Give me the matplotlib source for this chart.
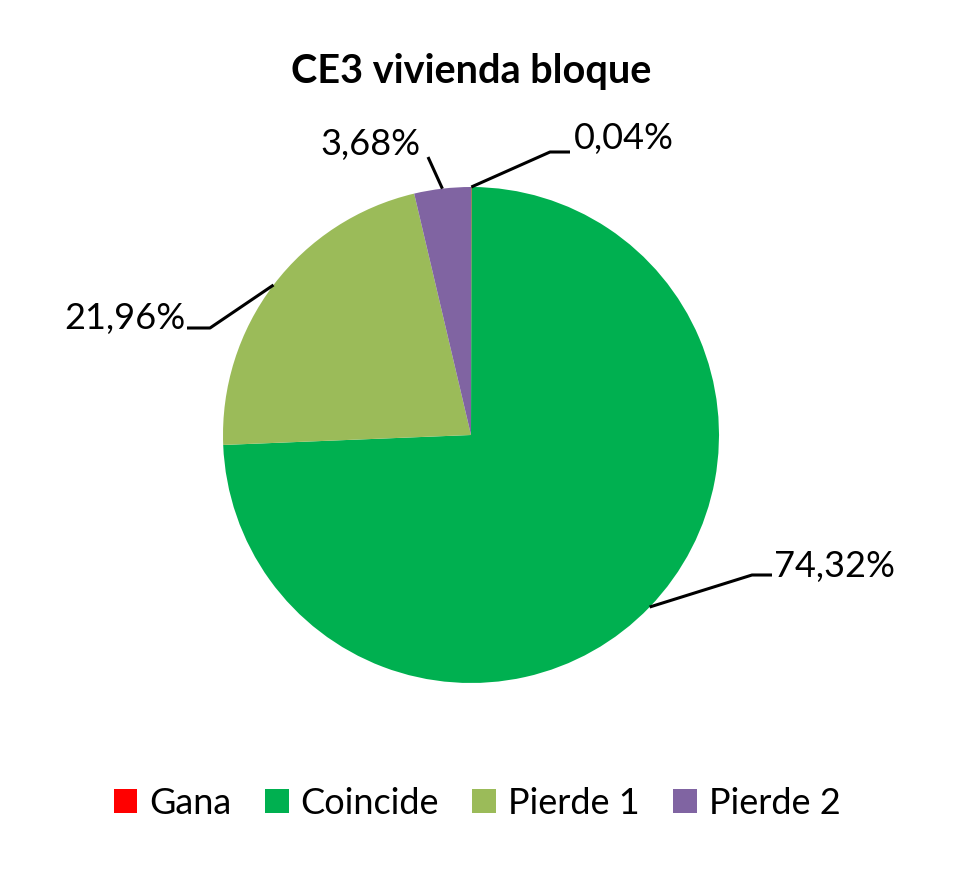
import numpy as np
import matplotlib.pyplot as plt
from matplotlib.patches import Patch

plt.rcParams['font.family'] = ['Lato', 'DejaVu Sans']

# Datos del gráfico
categorias = ['Gana', 'Coincide', 'Pierde 1', 'Pierde 2']
valores = [0.04, 74.32, 21.96, 3.68]
etiquetas = ['0,04%', '74,32%', '21,96%', '3,68%']
colores = ['#FF0000', '#00B050', '#9BBB59', '#8064A2']

# Centro y radio del pie en píxeles (figura 974x869)
W, H = 974, 869
cx, cy, R = 471, 435, 248


def px(x, y):
    # convertir coordenadas de píxel a unidades de datos
    return (x - cx) / R, (cy - y) / R


fig = plt.figure(figsize=(W / 100, H / 100), dpi=100)
ax = fig.add_axes([0, 0, 1, 1])

wedges, _ = ax.pie(valores, colors=colores, startangle=90, counterclock=False,
                   radius=1.0, wedgeprops=dict(linewidth=0))

ax.set_xlim(-cx / R, (W - cx) / R)
ax.set_ylim((cy - H) / R, cy / R)
ax.set_aspect('equal')
ax.axis('off')

# Posiciones de las líneas guía y textos (píxeles): codo, extremo, texto, alineación
guias = [
    ((550, 152), (570, 152), (574, 139), 'left'),
    ((752, 575), (772, 575), (774, 566), 'left'),
    ((210, 328), (187, 328), (185, 319), 'right'),
    ((428, 157), (428, 157), (421, 145), 'right'),
]

for w, lab, (codo, fin, txt, ha) in zip(wedges, etiquetas, guias):
    ang = np.deg2rad((w.theta1 + w.theta2) / 2)
    x0, y0 = np.cos(ang), np.sin(ang)
    xc, yc = px(*codo)
    xf, yf = px(*fin)
    ax.plot([x0, xc, xf], [y0, yc, yf], color='black', lw=2.2, solid_capstyle='butt')
    xt, yt = px(*txt)
    ax.text(xt, yt, lab, ha=ha, va='center', fontsize=26)

xt, yt = px(471, 72)
ax.text(xt, yt, 'CE3 vivienda bloque', ha='center', va='center',
        fontsize=28.5, fontweight='bold')

handles = [Patch(facecolor=c, edgecolor='none') for c in colores]
fig.legend(handles, categorias, loc='center', ncol=4, frameon=False,
           bbox_to_anchor=(477 / W, 1 - 803 / H), fontsize=26,
           handlelength=0.66, handleheight=0.66, handletextpad=0.33,
           columnspacing=0.92)

fig.savefig('out.png', dpi=100)
